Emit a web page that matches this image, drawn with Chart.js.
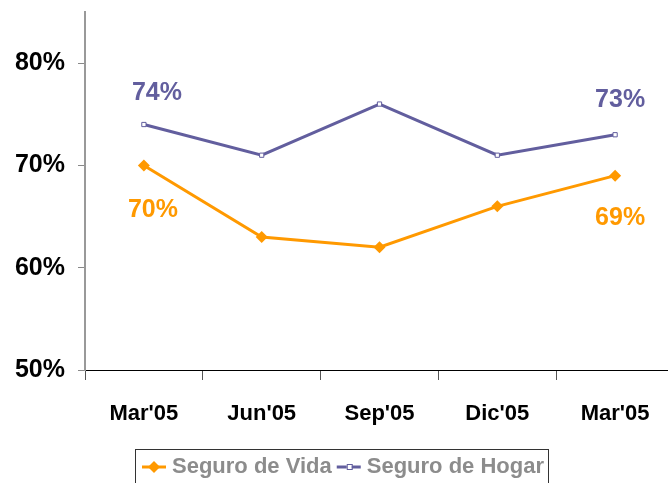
<!DOCTYPE html>
<html lang="es">
<head>
    <meta charset="UTF-8">
    <title>Seguro de Vida / Seguro de Hogar</title>
    <script src="https://cdn.jsdelivr.net/npm/chart.js"></script>
    <style>
        body {
            margin: 0;
            padding: 0;
            background: #ffffff;
            overflow: hidden;
        }
        #wrap {
            width: 680px;
            height: 483px;
        }
    </style>
</head>
<body>
<div id="wrap">
    <canvas id="seguros" width="680" height="483"></canvas>
</div>
<script>
    const quarters = ["Mar'05", "Jun'05", "Sep'05", "Dic'05", "Mar'05"];
    const vida = [70, 63, 62, 66, 69];
    const hogar = [74, 71, 76, 71, 73];
    const yTicks = [50, 60, 70, 80];
    const labelledPoints = [0, 4]; // only first and last get a value label

    const orange = '#FF9900';
    const purple = '#625E9E';

    // value labels next to first / last points
    const valueLabels = {
        id: 'valueLabels',
        afterDatasetsDraw(chart) {
            const c = chart.ctx;
            c.save();
            c.font = 'bold 25px "Liberation Sans", Arial, sans-serif';
            c.textAlign = 'center';
            c.textBaseline = 'middle';
            // [dx, dy] per dataset, per labelled point
            const shifts = [
                [[9, 45], [5, 42]],
                [[13, -31], [5, -35]]
            ];
            chart.data.datasets.forEach((ds, di) => {
                const meta = chart.getDatasetMeta(di);
                labelledPoints.forEach((idx, k) => {
                    const pt = meta.data[idx];
                    c.fillStyle = ds.borderColor;
                    c.fillText(ds.data[idx] + '%', pt.x + shifts[di][k][0], pt.y + shifts[di][k][1]);
                });
            });
            c.restore();
        }
    };

    // boxed legend at the bottom, partly cut by the image edge
    const boxLegend = {
        id: 'boxLegend',
        afterDraw(chart) {
            const c = chart.ctx;
            c.save();
            c.strokeStyle = '#333';
            c.lineWidth = 1;
            c.strokeRect(135.5, 449.5, 413, 45);
            c.font = 'bold 22px "Liberation Sans", Arial, sans-serif';
            c.textBaseline = 'middle';
            const y = 467;
            let x = 142;
            chart.data.datasets.forEach((ds, i) => {
                c.strokeStyle = ds.borderColor;
                c.lineWidth = 3;
                c.beginPath();
                c.moveTo(x, y);
                c.lineTo(x + 24, y);
                c.stroke();
                if (i === 0) {
                    c.fillStyle = ds.borderColor;
                    c.beginPath();
                    c.moveTo(x + 12, y - 6);
                    c.lineTo(x + 18, y);
                    c.lineTo(x + 12, y + 6);
                    c.lineTo(x + 6, y);
                    c.closePath();
                    c.fill();
                } else {
                    c.fillStyle = '#fff';
                    c.lineWidth = 1;
                    c.fillRect(x + 10, y - 2.5, 5, 5);
                    c.strokeRect(x + 10.5, y - 2.5, 5, 5);
                }
                c.fillStyle = '#8C8C8C';
                c.fillText(ds.label, x + 30, y);
                x += 30 + c.measureText(ds.label).width + 5;
            });
            c.restore();
        }
    };

    const ctx = document.getElementById('seguros').getContext('2d');
    const myChart = new Chart(ctx, {
        type: 'line',
        data: {
            labels: quarters,
            datasets: [{
                label: 'Seguro de Vida',
                data: vida,
                borderColor: orange,
                backgroundColor: orange,
                borderWidth: 3,
                pointStyle: 'rectRot',
                pointRadius: 6,
                pointBorderWidth: 0,
                tension: 0
            }, {
                label: 'Seguro de Hogar',
                data: hogar,
                borderColor: purple,
                backgroundColor: '#ffffff',
                borderWidth: 3,
                pointStyle: 'rect',
                pointRadius: 3,
                pointBorderWidth: 1,
                tension: 0
            }]
        },
        options: {
            responsive: false,
            animation: false,
            layout: { padding: { top: 12, left: 0, right: 0, bottom: 0 } },
            plugins: {
                legend: { display: false },
                tooltip: { enabled: false }
            },
            scales: {
                x: {
                    offset: true,
                    grid: {
                        offset: true,
                        drawOnChartArea: false,
                        drawTicks: true,
                        tickLength: 10,
                        color: '#555'
                    },
                    border: { display: true, color: '#000', width: 1 },
                    ticks: {
                        color: '#000',
                        padding: 21,
                        font: { family: '"Liberation Sans", Arial', size: 22, weight: 'bold' }
                    },
                    afterFit(scale) { scale.height = 113; }
                },
                y: {
                    min: 50,
                    max: 85,
                    afterBuildTicks(scale) {
                        scale.ticks = yTicks.map(v => ({ value: v }));
                    },
                    grid: {
                        drawOnChartArea: false,
                        drawTicks: true,
                        tickLength: 7,
                        color: '#888'
                    },
                    border: { display: true, color: '#999', width: 2 },
                    ticks: {
                        color: '#000',
                        padding: 13,
                        callback: v => v + '%',
                        font: { family: '"Liberation Sans", Arial', size: 25, weight: 'bold' }
                    },
                    afterFit(scale) {
                        scale.width = 85;
                        scale.paddingTop = 0;
                        scale.paddingBottom = 0;
                    }
                }
            }
        },
        plugins: [valueLabels, boxLegend]
    });
</script>
</body>
</html>
